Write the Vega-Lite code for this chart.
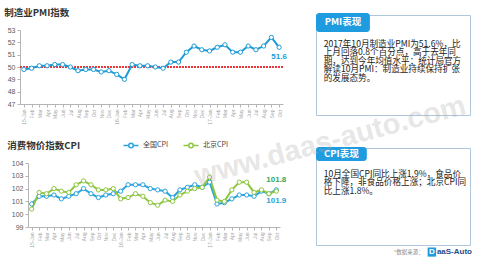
{
  "$schema": "https://vega.github.io/schema/vega-lite/v6.json",
  "background": "white",
  "padding": {"left": 4, "top": 7, "right": 0, "bottom": 0},
  "title": {"text": "www.daas-auto.com", "orient": "none", "anchor": "middle", "angle": -15, "dx": 267, "dy": 188, "fontSize": 29, "fontWeight": "bold", "font": "Liberation Sans", "color": "rgba(170,170,170,0.3)"},
  "config": {
    "font": "Liberation Sans",
    "view": {"stroke": null},
    "axis": {"grid": false, "title": null, "domainColor": "#B5B5B5", "tickColor": "#B5B5B5", "tickSize": 3, "labelColor": "#595959", "labelFontSize": 7, "labelPadding": 2}
  },
  "datasets": {
    "pmi": [
      {"month": "15-Jan", "pmi": 49.8}, {"month": "15-Feb", "pmi": 49.9}, {"month": "15-Mar", "pmi": 50.1}, {"month": "15-Apr", "pmi": 50.1},
      {"month": "15-May", "pmi": 50.2}, {"month": "15-Jun", "pmi": 50.2}, {"month": "15-Jul", "pmi": 50.0}, {"month": "15-Aug", "pmi": 49.7},
      {"month": "15-Sep", "pmi": 49.8}, {"month": "15-Oct", "pmi": 49.8}, {"month": "15-Nov", "pmi": 49.6}, {"month": "15-Dec", "pmi": 49.7},
      {"month": "16-Jan", "pmi": 49.4}, {"month": "16-Feb", "pmi": 49.0}, {"month": "16-Mar", "pmi": 50.2}, {"month": "16-Apr", "pmi": 50.1},
      {"month": "16-May", "pmi": 50.1}, {"month": "16-Jun", "pmi": 50.0}, {"month": "16-Jul", "pmi": 49.9}, {"month": "16-Aug", "pmi": 50.4},
      {"month": "16-Sep", "pmi": 50.4}, {"month": "16-Oct", "pmi": 51.2}, {"month": "16-Nov", "pmi": 51.7}, {"month": "16-Dec", "pmi": 51.4},
      {"month": "17-Jan", "pmi": 51.3}, {"month": "17-Feb", "pmi": 51.6}, {"month": "17-Mar", "pmi": 51.8}, {"month": "17-Apr", "pmi": 51.2},
      {"month": "17-May", "pmi": 51.2}, {"month": "17-Jun", "pmi": 51.7}, {"month": "17-Jul", "pmi": 51.4}, {"month": "17-Aug", "pmi": 51.7},
      {"month": "17-Sep", "pmi": 52.4}, {"month": "17-Oct", "pmi": 51.6}
    ],
    "cpi": [
      {"month": "15-Jan", "series": "全国CPI", "value": 100.8}, {"month": "15-Feb", "series": "全国CPI", "value": 101.4}, {"month": "15-Mar", "series": "全国CPI", "value": 101.4},
      {"month": "15-Apr", "series": "全国CPI", "value": 101.5}, {"month": "15-May", "series": "全国CPI", "value": 101.2}, {"month": "15-Jun", "series": "全国CPI", "value": 101.4},
      {"month": "15-Jul", "series": "全国CPI", "value": 101.6}, {"month": "15-Aug", "series": "全国CPI", "value": 102.0}, {"month": "15-Sep", "series": "全国CPI", "value": 101.6},
      {"month": "15-Oct", "series": "全国CPI", "value": 101.3}, {"month": "15-Nov", "series": "全国CPI", "value": 101.5}, {"month": "15-Dec", "series": "全国CPI", "value": 101.6},
      {"month": "16-Jan", "series": "全国CPI", "value": 101.8}, {"month": "16-Feb", "series": "全国CPI", "value": 102.3}, {"month": "16-Mar", "series": "全国CPI", "value": 102.3},
      {"month": "16-Apr", "series": "全国CPI", "value": 102.3}, {"month": "16-May", "series": "全国CPI", "value": 102.0}, {"month": "16-Jun", "series": "全国CPI", "value": 101.9},
      {"month": "16-Jul", "series": "全国CPI", "value": 101.8}, {"month": "16-Aug", "series": "全国CPI", "value": 101.3}, {"month": "16-Sep", "series": "全国CPI", "value": 101.9},
      {"month": "16-Oct", "series": "全国CPI", "value": 102.1}, {"month": "16-Nov", "series": "全国CPI", "value": 102.3}, {"month": "16-Dec", "series": "全国CPI", "value": 102.1},
      {"month": "17-Jan", "series": "全国CPI", "value": 102.5}, {"month": "17-Feb", "series": "全国CPI", "value": 100.8}, {"month": "17-Mar", "series": "全国CPI", "value": 100.9},
      {"month": "17-Apr", "series": "全国CPI", "value": 101.2}, {"month": "17-May", "series": "全国CPI", "value": 101.5}, {"month": "17-Jun", "series": "全国CPI", "value": 101.5},
      {"month": "17-Jul", "series": "全国CPI", "value": 101.4}, {"month": "17-Aug", "series": "全国CPI", "value": 101.8}, {"month": "17-Sep", "series": "全国CPI", "value": 101.6},
      {"month": "17-Oct", "series": "全国CPI", "value": 101.9},
      {"month": "15-Jan", "series": "北京CPI", "value": 100.4}, {"month": "15-Feb", "series": "北京CPI", "value": 101.7}, {"month": "15-Mar", "series": "北京CPI", "value": 101.6},
      {"month": "15-Apr", "series": "北京CPI", "value": 102.0}, {"month": "15-May", "series": "北京CPI", "value": 101.8}, {"month": "15-Jun", "series": "北京CPI", "value": 101.7},
      {"month": "15-Jul", "series": "北京CPI", "value": 102.3}, {"month": "15-Aug", "series": "北京CPI", "value": 102.6}, {"month": "15-Sep", "series": "北京CPI", "value": 102.3},
      {"month": "15-Oct", "series": "北京CPI", "value": 101.9}, {"month": "15-Nov", "series": "北京CPI", "value": 101.9}, {"month": "15-Dec", "series": "北京CPI", "value": 102.0},
      {"month": "16-Jan", "series": "北京CPI", "value": 101.2}, {"month": "16-Feb", "series": "北京CPI", "value": 101.3}, {"month": "16-Mar", "series": "北京CPI", "value": 101.6},
      {"month": "16-Apr", "series": "北京CPI", "value": 101.4}, {"month": "16-May", "series": "北京CPI", "value": 100.9}, {"month": "16-Jun", "series": "北京CPI", "value": 100.7},
      {"month": "16-Jul", "series": "北京CPI", "value": 101.1}, {"month": "16-Aug", "series": "北京CPI", "value": 101.0}, {"month": "16-Sep", "series": "北京CPI", "value": 101.5},
      {"month": "16-Oct", "series": "北京CPI", "value": 101.8}, {"month": "16-Nov", "series": "北京CPI", "value": 102.0}, {"month": "16-Dec", "series": "北京CPI", "value": 102.1},
      {"month": "17-Jan", "series": "北京CPI", "value": 102.9}, {"month": "17-Feb", "series": "北京CPI", "value": 101.1}, {"month": "17-Mar", "series": "北京CPI", "value": 101.0},
      {"month": "17-Apr", "series": "北京CPI", "value": 101.9}, {"month": "17-May", "series": "北京CPI", "value": 102.5}, {"month": "17-Jun", "series": "北京CPI", "value": 102.5},
      {"month": "17-Jul", "series": "北京CPI", "value": 101.7}, {"month": "17-Aug", "series": "北京CPI", "value": 101.9}, {"month": "17-Sep", "series": "北京CPI", "value": 101.6},
      {"month": "17-Oct", "series": "北京CPI", "value": 101.8}
    ]
  },
  "spacing": 28,
  "hconcat": [
    {
      "bounds": "flush",
      "spacing": 44,
      "vconcat": [
        {
          "width": 263,
          "height": 89,
          "title": {"text": "制造业PMI指数", "font": "Noto Sans CJK SC", "fontSize": 9.5, "fontWeight": "bold", "color": "#333333", "anchor": "start", "frame": "bounds", "offset": -2, "dx": -3},
          "data": {"name": "pmi"},
          "encoding": {
            "y": {"field": "pmi", "type": "quantitative", "scale": {"domain": [47, 53], "range": [89, 15], "nice": false, "zero": false},
              "axis": {"values": [47, 48, 49, 50, 51, 52, 53], "labelOverlap": false}}
          },
          "layer": [
            {
              "mark": {"type": "rule", "color": "#E8383D", "strokeDash": [1.5, 1.5], "strokeWidth": 1.2},
              "encoding": {"y": {"datum": 50, "type": "quantitative"}}
            },
            {
              "mark": {"type": "line", "color": "#1E9BD7", "strokeWidth": 2, "point": {"filled": false, "fill": "white", "size": 18, "strokeWidth": 1, "color": "#1E9BD7"}},
              "encoding": {
                "x": {"field": "month", "type": "ordinal", "sort": null, "scale": {"type": "point", "padding": 0.5},
                  "axis": {"labelAngle": -90, "labelFontSize": 5, "labelColor": "#A6A6A6", "labelOverlap": false, "labelExpr": "indexof(datum.value, 'Jan') >= 0 ? datum.value : slice(datum.value, 3)"}}
              }
            },
            {
              "transform": [{"filter": "datum.month == '17-Oct'"}],
              "mark": {"type": "text", "dy": 10, "fontWeight": "bold", "fontSize": 8, "color": "#1E9BD7"},
              "encoding": {
                "x": {"field": "month", "type": "ordinal", "sort": null},
                "text": {"field": "pmi", "type": "quantitative", "format": ".1f"}
              }
            }
          ]
        },
        {
          "width": 263,
          "height": 79,
          "title": {"text": "消费物价指数CPI", "font": "Noto Sans CJK SC", "fontSize": 9.5, "fontWeight": "bold", "color": "#333333", "anchor": "start", "frame": "bounds", "offset": -2, "dx": -4},
          "data": {"name": "cpi"},
          "encoding": {
            "x": {"field": "month", "type": "ordinal", "sort": null, "scale": {"type": "point", "padding": 0.5, "range": [8, 260]},
              "axis": {"labelAngle": -90, "labelFontSize": 5, "labelColor": "#A6A6A6", "labelOverlap": false, "labelExpr": "indexof(datum.value, 'Jan') >= 0 ? datum.value : slice(datum.value, 3)"}},
            "y": {"field": "value", "type": "quantitative", "scale": {"domain": [99, 104], "range": [79, 15], "nice": false, "zero": false}, "axis": {"values": [99, 100, 101, 102, 103, 104], "offset": -8, "labelOverlap": false}},
            "color": {"field": "series", "type": "nominal", "scale": {"domain": ["全国CPI", "北京CPI"], "range": ["#2BA3DD", "#8DC63F"]},
              "legend": {"orient": "none", "legendX": 105, "legendY": 124, "direction": "horizontal", "title": null, "labelFont": "Noto Sans CJK SC", "labelFontSize": 7, "labelColor": "#444444",
                "symbolType": "M-1.5,0L-0.45,0M0.45,0L1.5,0M0.45,0A0.45,0.45,0,1,1,-0.45,0A0.45,0.45,0,1,1,0.45,0", "symbolSize": 100, "symbolStrokeWidth": 1.5, "symbolFillColor": "white", "labelOffset": 6, "columnPadding": 12}}
          },
          "layer": [
            {
              "mark": {"type": "line", "strokeWidth": 2, "point": {"filled": false, "fill": "white", "size": 18, "strokeWidth": 1}}
            },
            {
              "transform": [{"filter": "datum.month == '17-Oct' && datum.series == '北京CPI'"}],
              "mark": {"type": "text", "dy": -11, "fontWeight": "bold", "fontSize": 8},
              "encoding": {"text": {"field": "value", "type": "quantitative", "format": ".1f"}, "color": {"value": "#35A55A"}}
            },
            {
              "transform": [{"filter": "datum.month == '17-Oct' && datum.series == '全国CPI'"}],
              "mark": {"type": "text", "dy": 11, "fontWeight": "bold", "fontSize": 8},
              "encoding": {"text": {"field": "value", "type": "quantitative", "format": ".1f"}, "color": {"value": "#2BA3DD"}}
            }
          ]
        }
      ]
    },
    {
      "bounds": "flush",
      "spacing": 33,
      "vconcat": [
        {
          "width": 154,
          "height": 100,
          "view": {"stroke": "#AFC6DB", "strokeWidth": 1, "fill": null},
          "layer": [
            {
              "data": {"values": [{"tab": "PMI表现"}]},
              "mark": {"type": "rect", "color": "#1E9CDF", "cornerRadius": 3},
              "encoding": {
                "x": {"datum": 0, "type": "quantitative", "scale": {"domain": [0, 1], "nice": false, "zero": false}, "axis": null},
                "x2": {"datum": 0.35},
                "y": {"datum": -2.73, "type": "quantitative", "scale": {"domain": [-2.49, 9.55], "reverse": true, "nice": false, "zero": false}, "axis": null},
                "y2": {"datum": -0.45}
              }
            },
            {
              "data": {"values": [{"tab": "PMI表现"}]},
              "mark": {"type": "text", "color": "white", "fontWeight": "bold", "fontSize": 9.5, "font": "Noto Sans CJK SC", "align": "center"},
              "encoding": {
                "x": {"datum": 0.175, "type": "quantitative"},
                "y": {"datum": -1.59, "type": "quantitative"},
                "text": {"field": "tab"}
              }
            },
            {
              "data": {"values": [{"text": "2017年10月制造业PMI为51.6%，比\n上月回落0.8个百分点，高于去年同\n期，达到今年均值水平；统计局官方\n解读10月PMI：制造业持续保持扩张\n的发展态势。"}]},
              "mark": {"type": "text", "align": "left", "baseline": "middle", "fontSize": 8.6, "lineHeight": 8.4, "lineBreak": "\n", "font": "Noto Sans CJK SC", "color": "#222222"},
              "encoding": {
                "x": {"datum": 0.05, "type": "quantitative"},
                "y": {"datum": 1, "type": "quantitative"},
                "text": {"field": "text"}
              }
            }
          ]
        },
        {
          "width": 154,
          "height": 97,
          "view": {"stroke": "#AFC6DB", "strokeWidth": 1, "fill": null},
          "layer": [
            {
              "data": {"values": [{"tab": "CPI表现"}]},
              "mark": {"type": "rect", "color": "#1E9CDF", "cornerRadius": 3},
              "encoding": {
                "x": {"datum": 0, "type": "quantitative", "scale": {"domain": [0, 1], "nice": false, "zero": false}, "axis": null},
                "x2": {"datum": 0.33},
                "y": {"datum": -2.25, "type": "quantitative", "scale": {"domain": [-2.13, 9.55], "reverse": true, "nice": false, "zero": false}, "axis": null},
                "y2": {"datum": -0.57}
              }
            },
            {
              "data": {"values": [{"tab": "CPI表现"}]},
              "mark": {"type": "text", "color": "white", "fontWeight": "bold", "fontSize": 9.5, "font": "Noto Sans CJK SC", "align": "center"},
              "encoding": {
                "x": {"datum": 0.165, "type": "quantitative"},
                "y": {"datum": -1.41, "type": "quantitative"},
                "text": {"field": "tab"}
              }
            },
            {
              "data": {"values": [{"text": "10月全国CPI同比上涨1.9%，食品价\n格下降，非食品价格上涨；北京CPI同\n比上涨1.8%。"}]},
              "mark": {"type": "text", "align": "left", "baseline": "middle", "fontSize": 8.6, "lineHeight": 8.4, "lineBreak": "\n", "font": "Noto Sans CJK SC", "color": "#222222"},
              "encoding": {
                "x": {"datum": 0.05, "type": "quantitative"},
                "y": {"datum": 1, "type": "quantitative"},
                "text": {"field": "text"}
              }
            },
            {
              "data": {"values": [{"src": "*数据来源："}]},
              "mark": {"type": "text", "align": "right", "fontSize": 5.5, "font": "Noto Sans CJK SC", "color": "#8C8C8C"},
              "encoding": {
                "x": {"datum": 0.7, "type": "quantitative"},
                "y": {"datum": 10.4, "type": "quantitative"},
                "text": {"field": "src"}
              }
            },
            {
              "data": {"values": [{"logo": "D"}]},
              "mark": {"type": "rect", "color": "#1E9CDF"},
              "encoding": {
                "x": {"datum": 0.725, "type": "quantitative"},
                "x2": {"datum": 0.78},
                "y": {"datum": 9.85, "type": "quantitative"},
                "y2": {"datum": 10.95}
              }
            },
            {
              "data": {"values": [{"logo": "D"}]},
              "mark": {"type": "text", "align": "center", "fontSize": 8, "fontWeight": "bold", "color": "white"},
              "encoding": {
                "x": {"datum": 0.7525, "type": "quantitative"},
                "y": {"datum": 10.4, "type": "quantitative"},
                "text": {"field": "logo"}
              }
            },
            {
              "data": {"values": [{"logo": "aaS-Auto"}]},
              "mark": {"type": "text", "align": "left", "fontSize": 8, "fontWeight": "bold", "color": "#1F4E8C"},
              "encoding": {
                "x": {"datum": 0.785, "type": "quantitative"},
                "y": {"datum": 10.4, "type": "quantitative"},
                "text": {"field": "logo"}
              }
            }
          ]
        }
      ]
    }
  ]
}
